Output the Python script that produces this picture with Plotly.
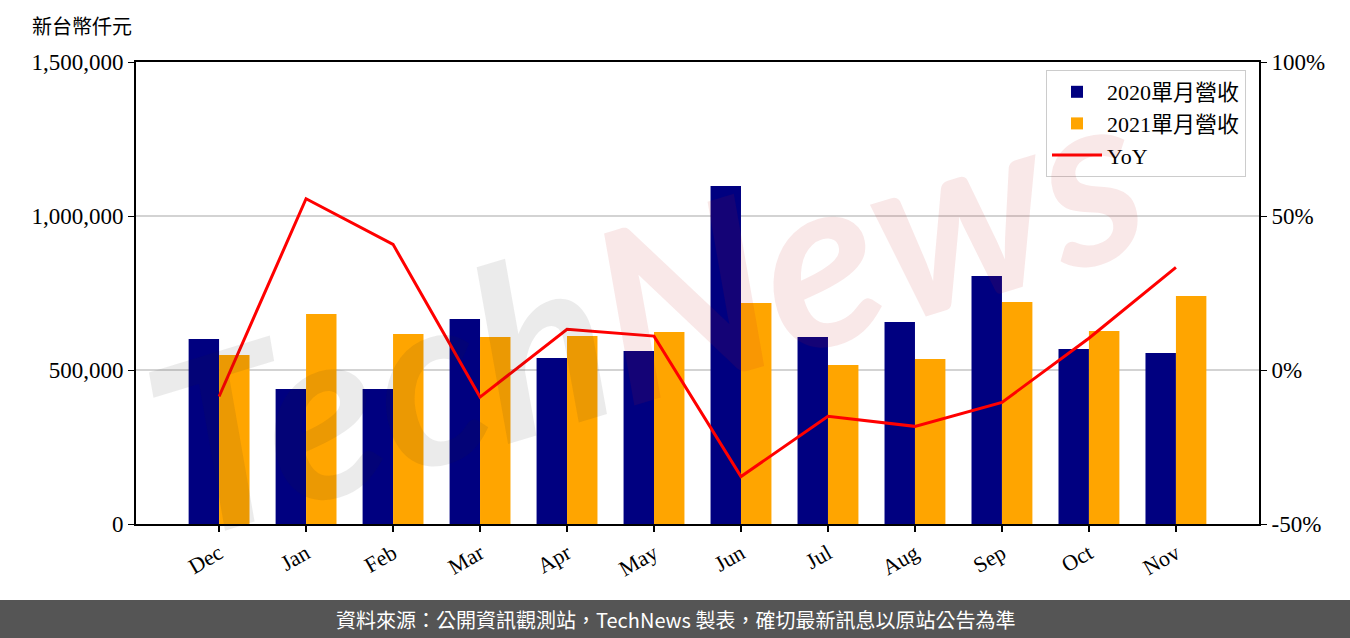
import plotly.graph_objects as go

months = ["Dec", "Jan", "Feb", "Mar", "Apr", "May", "Jun", "Jul", "Aug", "Sep", "Oct", "Nov"]
rev_2020 = [600600, 438300, 438000, 665600, 539000, 561700, 1097400, 607100, 655800, 805200, 568200, 555200]
rev_2021 = [548700, 681800, 616900, 607100, 610400, 623400, 717500, 516200, 535700, 720800, 626600, 740300]
yoy_pct = [-8.6, 55.6, 40.8, -8.8, 13.2, 11.0, -34.6, -15.0, -18.3, -10.5, 10.3, 33.3]

left_ticks = [0, 500000, 1000000, 1500000]
right_ticks = [-50, 0, 50, 100]
right_labels = ["-50%", "0%", "50%", "100%"]

FONT = "Liberation Serif, Noto Sans CJK TC, serif"

W, H = 1350, 638
L, R, T, B = 136, 1259, 62, 524
pw, ph = R - L, B - T

def px(x):
    return (x - L) / pw

def py(y):
    return (B - y) / ph

fig = go.Figure()
fig.add_trace(go.Bar(x=months, y=rev_2020, name="2020單月營收", marker_color="#000080",
                     marker_line_width=0))
fig.add_trace(go.Bar(x=months, y=rev_2021, name="2021單月營收", marker_color="#FFA500",
                     marker_line_width=0))
fig.add_trace(go.Scatter(x=months, y=yoy_pct, name="YoY", mode="lines",
                         line=dict(color="#FF0000", width=3), yaxis="y2"))

fig.update_layout(
    width=W, height=H,
    margin=dict(l=L, r=W - R, t=T, b=H - B),
    paper_bgcolor="white", plot_bgcolor="white",
    barmode="group", bargap=0.3, bargroupgap=0,
    font=dict(family=FONT, size=23, color="black"),
    showlegend=True,
    legend=dict(x=px(1246), y=py(70), xanchor="right", yanchor="top",
                bordercolor="#cccccc", borderwidth=1, bgcolor="rgba(255,255,255,0.85)",
                font=dict(family=FONT, size=22), tracegroupgap=0, itemwidth=50),
    xaxis=dict(range=[-0.955, 11.955], showline=True, linecolor="black", linewidth=2,
               mirror=True, ticks="outside", ticklen=6, tickcolor="black", tickwidth=1.5,
               tickangle=-30, showgrid=False, tickfont=dict(size=22)),
    yaxis=dict(range=[0, 1500000], tickvals=left_ticks, tickformat=",", showline=True,
               linecolor="black", linewidth=2, ticks="outside", ticklen=6, tickcolor="black",
               showgrid=True, gridcolor="#d3d3d3", gridwidth=1.5, zeroline=False,
               tickfont=dict(size=23)),
    yaxis2=dict(range=[-50, 100], tickvals=right_ticks, ticktext=right_labels, overlaying="y",
                side="right", showline=True, linecolor="black", linewidth=2, ticks="outside",
                ticklen=6, tickcolor="black", showgrid=False, zeroline=False,
                tickfont=dict(size=23)),
)

# watermark (semi-transparent, above the marks)
fig.add_annotation(
    text="<b><i><span style='color:rgba(30,30,30,0.09)'>Tech</span>"
         "<span style='color:rgba(200,30,30,0.10)'>News</span></i></b>",
    xref="paper", yref="paper", x=px(645), y=py(305), xanchor="center", yanchor="middle",
    showarrow=False, textangle=-17,
    font=dict(family="Lato, DejaVu Sans", size=240))

# footer band
fig.add_shape(type="rect", xref="paper", yref="paper", x0=px(0), x1=px(W), y0=py(600), y1=py(H + 2),
              line_width=0, fillcolor="#555555", layer="above")
fig.add_annotation(text="資料來源：公開資訊觀測站，TechNews 製表，確切最新訊息以原站公告為準",
                   xref="paper", yref="paper", x=px(W / 2), y=py(619), xanchor="center",
                   yanchor="middle", showarrow=False,
                   font=dict(family="Noto Sans CJK TC, sans-serif", size=20, color="white"))

# axis unit label
fig.add_annotation(text="新台幣仟元", xref="paper", yref="paper", x=px(30), y=py(27),
                   xanchor="left", yanchor="middle", showarrow=False,
                   font=dict(family=FONT, size=20, color="black"))

fig.write_html("out.html", config={"displayModeBar": False},
               post_script="document.body.style.margin='0';")
